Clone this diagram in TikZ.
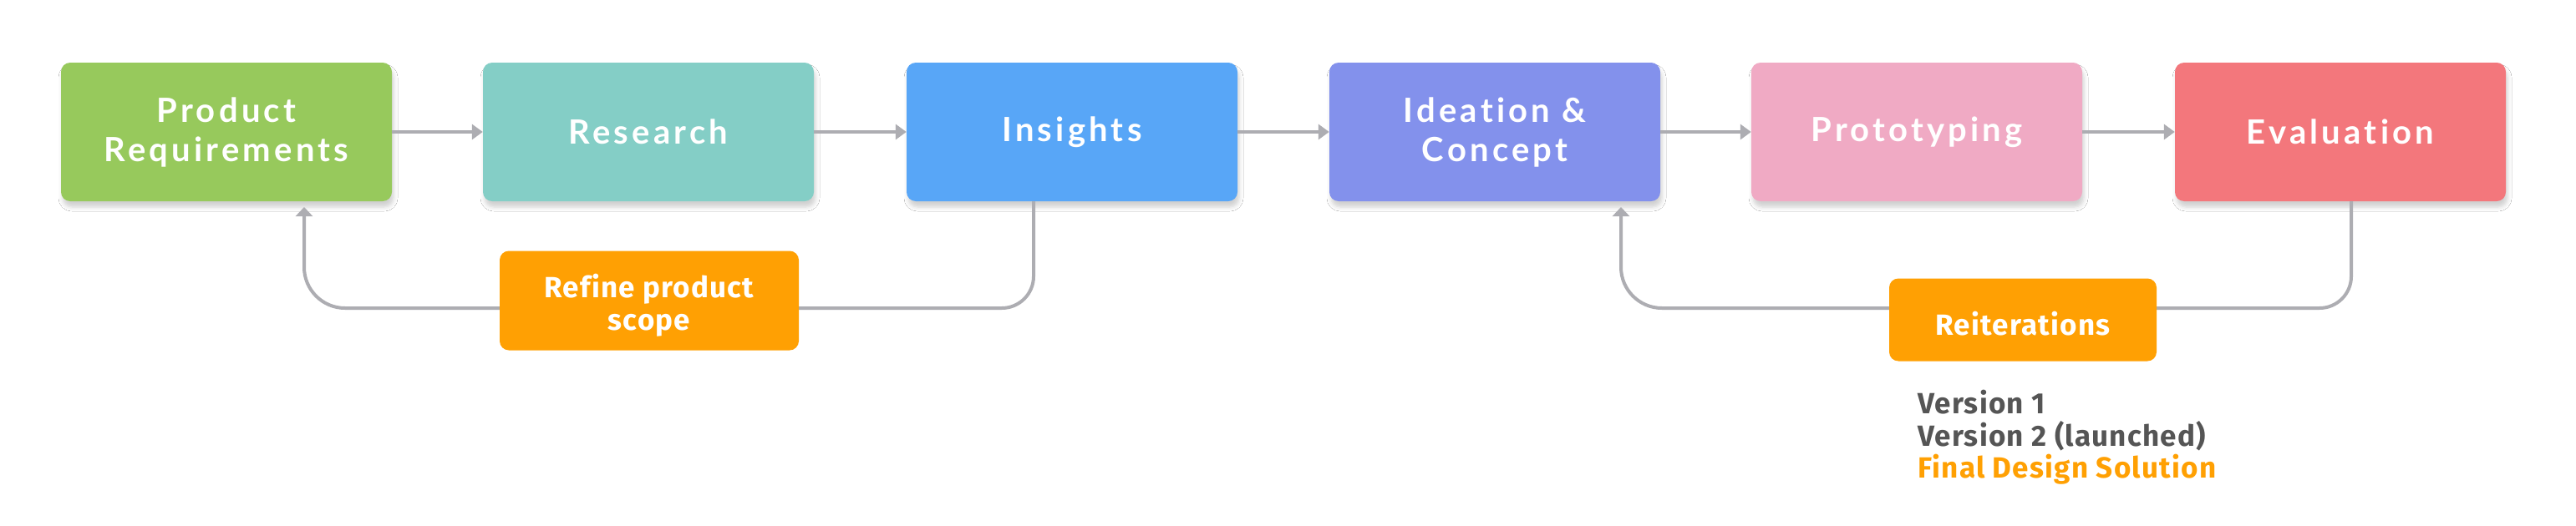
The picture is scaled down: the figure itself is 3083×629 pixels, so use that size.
\documentclass[tikz,border=0pt]{standalone}
\usepackage{fontspec}
\setmainfont{Lato}
\newfontfamily\boxfont[LetterSpace=10.5,Ligatures=NoCommon]{Lato}
\newfontfamily\condfont[LetterSpace=3.5,Ligatures=NoCommon]{Fira Sans}
\usetikzlibrary{arrows.meta,shadows.blur}
\definecolor{cgreen}{HTML}{97C95C}
\definecolor{cteal}{HTML}{84CEC6}
\definecolor{cblue}{HTML}{58A6F7}
\definecolor{cpurple}{HTML}{8391EC}
\definecolor{cpink}{HTML}{F0AAC4}
\definecolor{cred}{HTML}{F3777C}
\definecolor{corange}{HTML}{FFA003}
\definecolor{cgray}{HTML}{ADADB2}
\definecolor{ctext}{HTML}{555555}
\tikzset{
  stagebox/.style={rectangle, rounded corners=11pt, minimum width=396pt, minimum height=166pt,
    text=white, align=center, inner sep=0pt,
    font=\boxfont\bfseries\fontsize{40}{47}\selectfont,
    blur shadow={shadow xshift=2pt, shadow yshift=-7pt, shadow blur radius=5pt, shadow opacity=18}},
  notebox/.style={rectangle, rounded corners=11pt, fill=corange, inner sep=0pt},
  notetext/.style={text=white, align=center, inner sep=0pt,
    font=\condfont\bfseries\fontsize{35}{39}\selectfont},
  flowarrow/.style={draw=cgray, line width=4pt, -{Triangle[length=13pt,width=18pt]}},
  loopline/.style={draw=cgray, line width=4pt, -{Triangle[length=11pt,width=20pt]}},
}
\begin{document}
\begin{tikzpicture}[x=1pt,y=-1pt]
\useasboundingbox[fill=white] (0,0) rectangle (3083,629);
\node[stagebox, fill=cgreen]  (pr)  at (271,158)  {Product\\Requirements};
\node[stagebox, fill=cteal]   (res) at (776,158)  {Research};
\node[stagebox, fill=cblue]   (ins) at (1283,158) {Insights};
\node[stagebox, fill=cpurple] (ide) at (1789,158) {Ideation \&\\Concept};
\node[stagebox, fill=cpink]   (pro) at (2294,158) {Prototyping};
\node[stagebox, fill=cred]    (eva) at (2801,158) {Evaluation};

\draw[flowarrow] (pr.east) -- (res.west);
\draw[flowarrow] (res.east) -- (ins.west);
\draw[flowarrow] (ins.east) -- (ide.west);
\draw[flowarrow] (ide.east) -- (pro.west);
\draw[flowarrow] (pro.east) -- (eva.west);

\coordinate (l1s) at (1237,241);
\coordinate (l1e) at (364,248);
\coordinate (l2s) at (2814,241);
\coordinate (l2e) at (1940,248);
\draw[loopline] (l1s) [rounded corners=38pt] -- (1237,369) -- (800,369) [rounded corners=49pt] -- (364,369) [sharp corners] -- (l1e);
\draw[loopline] (l2s) [rounded corners=38pt] -- (2814,369) -- (2400,369) [rounded corners=49pt] -- (1940,369) [sharp corners] -- (l2e);

\node[notebox, minimum width=358pt, minimum height=119pt] (ref) at (777,360) {};
\node[notetext] (reftext) at (777,366) {Refine product\\scope};
\node[notebox, minimum width=320pt, minimum height=99pt] (rei) at (2421,383) {};
\node[notetext] (reitext) at (2421,388) {Reiterations};

\node[anchor=north west, align=left, inner sep=0pt, font=\condfont\bfseries\fontsize{35}{38.5}\selectfont, text=ctext] (ver) at (2295,467)
  {Version 1\\Version 2 (launched)\\\textcolor{corange}{Final Design Solution}};
\end{tikzpicture}
\end{document}
